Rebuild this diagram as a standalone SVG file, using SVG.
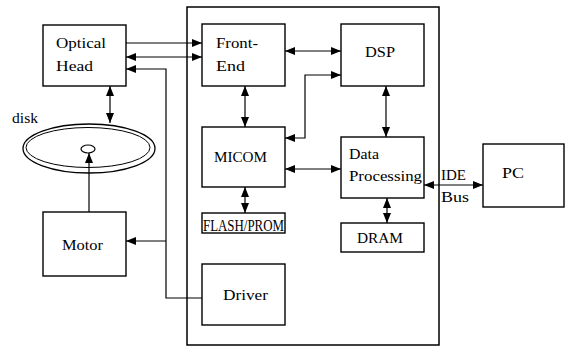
<svg xmlns="http://www.w3.org/2000/svg" width="565" height="347" viewBox="0 0 565 347">
<style>
.box{fill:#fff;stroke:#000;stroke-width:1.4}
.frame{fill:none;stroke:#000;stroke-width:1.5}
.t{font-family:"Liberation Serif","DejaVu Serif",serif;font-size:15px;fill:#000}
.c{fill:none;stroke:#000;stroke-width:1.2}
</style>
<defs>
<marker id="ah" viewBox="0 0 10 8" refX="10" refY="4" markerWidth="10" markerHeight="8" markerUnits="userSpaceOnUse" orient="auto-start-reverse">
<path d="M0,0 L10,4 L0,8 Z" fill="#000"/>
</marker>
</defs>
<rect width="565" height="347" fill="#fff"/>
<g id="container"><rect class="frame" x="187" y="7" width="252" height="338"/></g>
<g id="optical-head"><rect class="box" x="43" y="25" width="83" height="61"/><text class="t" x="56" y="48" textLength="50" lengthAdjust="spacingAndGlyphs">Optical</text><text class="t" x="56" y="71" textLength="37" lengthAdjust="spacingAndGlyphs">Head</text></g>
<g id="disk"><ellipse cx="89" cy="148.5" rx="66" ry="24.5" fill="none" stroke="#000" stroke-width="1.3"/><ellipse cx="88" cy="147.5" rx="62" ry="20" fill="none" stroke="#000" stroke-width="1"/><ellipse cx="88" cy="149" rx="7" ry="4" fill="#fff" stroke="#000" stroke-width="1.2"/><text class="t" x="12" y="123" textLength="26" lengthAdjust="spacingAndGlyphs">disk</text></g>
<g id="motor"><rect class="box" x="43" y="212" width="83" height="64"/><text class="t" x="62" y="250" textLength="41" lengthAdjust="spacingAndGlyphs">Motor</text></g>
<g id="front-end"><rect class="box" x="202" y="24" width="83" height="62"/><text class="t" x="216" y="48" textLength="42" lengthAdjust="spacingAndGlyphs">Front-</text><text class="t" x="216" y="71" textLength="29" lengthAdjust="spacingAndGlyphs">End</text></g>
<g id="dsp"><rect class="box" x="341" y="24" width="83" height="62"/><text class="t" x="365" y="57" textLength="30" lengthAdjust="spacingAndGlyphs">DSP</text></g>
<g id="micom"><rect class="box" x="202" y="127" width="83" height="60"/><text class="t" x="214" y="162" textLength="53" lengthAdjust="spacingAndGlyphs">MICOM</text></g>
<g id="data-processing"><rect class="box" x="341" y="137" width="83" height="61"/><text class="t" x="349" y="159" textLength="30" lengthAdjust="spacingAndGlyphs">Data</text><text class="t" x="349" y="181" textLength="73" lengthAdjust="spacingAndGlyphs">Processing</text></g>
<g id="flash-prom"><rect class="box" x="202" y="213" width="83" height="20" stroke-width="2"/><text class="t" x="203" y="231" textLength="81" lengthAdjust="spacingAndGlyphs" style="font-size:16px">FLASH/PROM</text></g>
<g id="dram"><rect class="box" x="341" y="223" width="83" height="29"/><text class="t" x="357" y="243" textLength="46" lengthAdjust="spacingAndGlyphs">DRAM</text></g>
<g id="driver"><rect class="box" x="202" y="264" width="83" height="61"/><text class="t" x="223" y="300" textLength="45" lengthAdjust="spacingAndGlyphs">Driver</text></g>
<g id="pc"><rect class="box" x="483" y="144" width="81" height="63"/><text class="t" x="502" y="178" textLength="22" lengthAdjust="spacingAndGlyphs">PC</text></g>
<g id="connectors">
<path class="c" d="M126,43 H202" marker-end="url(#ah)"/>
<path class="c" d="M126,57 H202" marker-start="url(#ah)" marker-end="url(#ah)"/>
<path class="c" d="M202,298 H166 V69 H126" marker-end="url(#ah)"/>
<path class="c" d="M166,241 H126" marker-end="url(#ah)"/>
<path class="c" d="M110,86 V123" marker-start="url(#ah)" marker-end="url(#ah)"/>
<path class="c" d="M89,212 V153" marker-end="url(#ah)"/>
<path class="c" d="M245,86 V127" marker-start="url(#ah)" marker-end="url(#ah)"/>
<path class="c" d="M285,51 H341" marker-start="url(#ah)" marker-end="url(#ah)"/>
<path class="c" d="M285,138 H305 V75 H341" marker-start="url(#ah)" marker-end="url(#ah)"/>
<path class="c" d="M285,169 H341" marker-start="url(#ah)" marker-end="url(#ah)"/>
<path class="c" d="M386,86 V137" marker-start="url(#ah)" marker-end="url(#ah)"/>
<path class="c" d="M245,187 V213" marker-start="url(#ah)" marker-end="url(#ah)"/>
<path class="c" d="M387,198 V223" marker-start="url(#ah)" marker-end="url(#ah)"/>
<path class="c" d="M424,185 H483" marker-start="url(#ah)" marker-end="url(#ah)"/>
</g>
<g id="ide-label"><text class="t" x="441" y="180" textLength="25" lengthAdjust="spacingAndGlyphs">IDE</text><text class="t" x="441" y="202" textLength="28" lengthAdjust="spacingAndGlyphs">Bus</text></g>
</svg>
